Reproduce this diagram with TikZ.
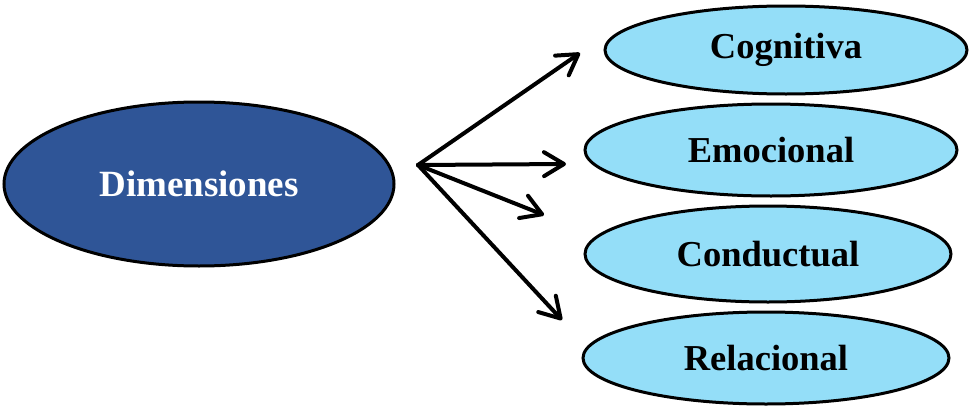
\documentclass[tikz,border=0pt]{standalone}
\usepackage{fontspec}
\setmainfont{Liberation Serif}
\usetikzlibrary{shapes.geometric,arrows.meta}
\definecolor{darkblue}{RGB}{47,85,151}
\definecolor{lightblue}{RGB}{148,222,248}
\tikzset{
  main/.style={ellipse, draw=black, line width=3pt, fill=darkblue, text=white,
    inner sep=0pt, font=\fontsize{37}{40}\selectfont\bfseries},
  dim/.style={ellipse, draw=black, line width=3pt, fill=lightblue, text=black,
    inner sep=0pt, font=\fontsize{36.5}{40}\selectfont\bfseries},
  arr/.style={line width=4pt, line cap=round, -{Straight Barb[length=20pt,width=24pt,line width=4pt, round]}}
}
\begin{document}
\begin{tikzpicture}[x=1pt,y=-1pt]
\useasboundingbox (0,0) rectangle (970,407);
\node[main, minimum width=390pt, minimum height=164pt] (d) at (199,184) {Dimensiones};
\node[dim, minimum width=362pt, minimum height=88pt] (c) at (786,50) {Cognitiva};
\node[dim, minimum width=372pt, minimum height=92pt] (e) at (771,150) {Emocional};
\node[dim, minimum width=366pt, minimum height=96pt] (k) at (768,254) {Conductual};
\node[dim, minimum width=366pt, minimum height=92pt] (r) at (766,358) {Relacional};
\coordinate (o) at (418,165);
\coordinate (t1) at (580,53);
\coordinate (t2) at (566,164);
\coordinate (t3) at (544,215);
\coordinate (t4) at (562,320);
\draw[arr] (o) -- (t1);
\draw[arr] (o) -- (t2);
\draw[arr] (o) -- (t3);
\draw[arr] (o) -- (t4);
\end{tikzpicture}
\end{document}
